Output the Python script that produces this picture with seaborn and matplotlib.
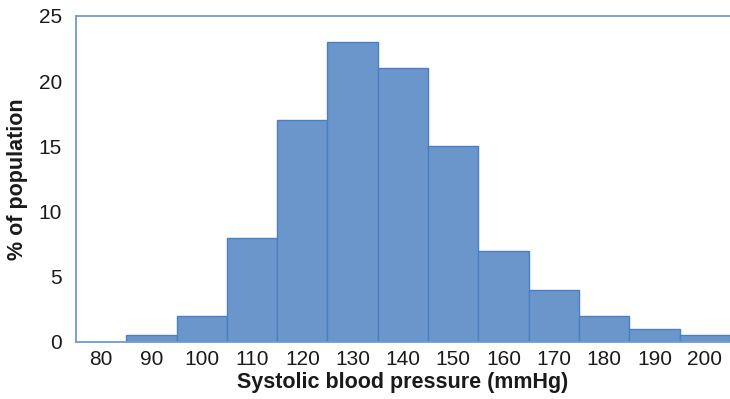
import matplotlib
matplotlib.use("Agg")
import matplotlib.pyplot as plt
import seaborn as sns

# systolic blood pressure bins (centres, mmHg) and % of population
bp_centres = [80, 90, 100, 110, 120, 130, 140, 150, 160, 170, 180, 190, 200]
pct_population = [0, 0.5, 2, 8, 17, 23, 21, 15, 7, 4, 2, 1, 0.5]
y_ticks = [0, 5, 10, 15, 20, 25]

sns.set_style("white")
plt.rcParams['font.family'] = ['Liberation Sans', 'DejaVu Sans']

fig = plt.figure(figsize=(7.3, 3.99), dpi=100)
ax = fig.add_axes([0.104, 0.143, 0.896, 0.817])

edges = [c - 5 for c in bp_centres] + [bp_centres[-1] + 5]
sns.histplot(x=bp_centres, weights=pct_population, bins=edges, ax=ax,
             color="#6b96cc", edgecolor="#4a7fc4", linewidth=1.0, alpha=1)

ax.set_xlim(75, 205)
ax.set_ylim(0, 25)
ax.set_xticks(bp_centres)
ax.set_yticks(y_ticks)
ax.tick_params(axis='y', length=5, color="#7fa6d8", width=1, labelsize=15, pad=5)
ax.tick_params(axis='x', length=0, labelsize=15, pad=6)
for tl in ax.get_xticklabels() + ax.get_yticklabels():
    tl.set_color("#1a1a1a")

for side in ["left", "top", "bottom"]:
    ax.spines[side].set_visible(True)
    ax.spines[side].set_color("#6f9bd6")
    ax.spines[side].set_linewidth(1.3)
ax.spines["right"].set_visible(False)

ax.set_xlabel("Systolic blood pressure (mmHg)", fontsize=15.5, fontweight="bold",
              color="#1a1a1a", labelpad=2)
ax.set_ylabel("% of population", fontsize=15.5, fontweight="bold",
              color="#1a1a1a", labelpad=8)

fig.savefig("out.png", dpi=100)
